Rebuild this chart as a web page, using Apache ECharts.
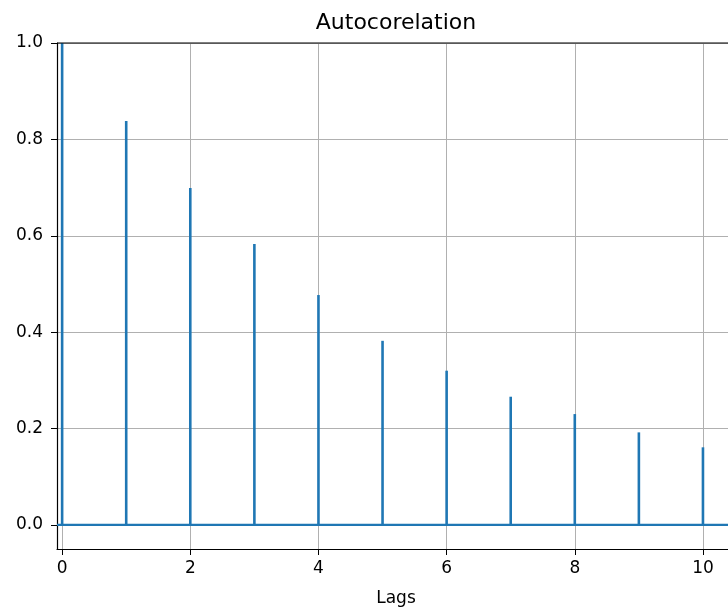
<!DOCTYPE html>
<html>
<head>
<meta charset="utf-8">
<script src="https://cdn.jsdelivr.net/npm/echarts@6/dist/echarts.min.js"></script>
<style>
  html, body { margin: 0; padding: 0; background: #fff; }
  #chart { width: 728px; height: 607px; }
</style>
</head>
<body>
<div id="chart"></div>
<script>
// autocorrelation per lag
var lags = [0, 1, 2, 3, 4, 5, 6, 7, 8, 9, 10];
var acf = [1.0, 0.838, 0.699, 0.583, 0.477, 0.382, 0.320, 0.266, 0.230, 0.192, 0.161];
var xTicks = [0, 2, 4, 6, 8, 10];
var yTicks = [0, 0.2, 0.4, 0.6, 0.8, 1.0];

var xMin = -0.08, xMax = 10.5;
var yMin = -0.05, yMax = 1.0;
var blue = '#1f77b4';
var font = 'DejaVu Sans';

var stems = lags.map(function (l, i) { return [l, acf[i]]; });

var chart = echarts.init(document.getElementById('chart'));
chart.setOption({
  animation: false,
  backgroundColor: '#fff',
  title: {
    text: 'Autocorelation',
    left: 391, top: 7, textAlign: 'center',
    textStyle: { fontFamily: font, fontSize: 22, fontWeight: 'normal', color: '#000' }
  },
  grid: { left: 57, top: 43, bottom: 58, right: -7, containLabel: false, outerBoundsMode: 'none' },
  xAxis: {
    type: 'value', min: xMin, max: xMax,
    name: 'Lags', nameLocation: 'middle', nameGap: 41,
    nameTextStyle: { fontFamily: font, fontSize: 17, color: '#000' },
    axisLine: { onZero: false, lineStyle: { color: '#000', width: 1.2 } },
    axisTick: { show: true, length: 6, customValues: xTicks, lineStyle: { color: '#000' } },
    axisLabel: { customValues: xTicks, margin: 11, fontFamily: font, fontSize: 17, color: '#000' },
    splitLine: { show: true, customValues: xTicks, lineStyle: { color: '#b0b0b0', width: 1 } }
  },
  yAxis: {
    type: 'value', min: yMin, max: yMax,
    axisLine: { show: true, onZero: false, lineStyle: { color: '#000', width: 1.2 } },
    axisTick: { show: true, length: 6, customValues: yTicks, lineStyle: { color: '#000' } },
    axisLabel: {
      customValues: yTicks, margin: 14, fontFamily: font, fontSize: 17, color: '#000',
      formatter: function (v) { return v.toFixed(1); }
    },
    splitLine: { show: true, customValues: yTicks, lineStyle: { color: '#b0b0b0', width: 1 } }
  },
  series: [
    {
      type: 'line',
      data: [[xMin, 0], [xMax, 0]],
      symbol: 'none',
      lineStyle: { color: blue, width: 2.2 },
      z: 3
    },
    {
      type: 'custom',
      data: stems,
      renderItem: function (params, api) {
        var p0 = api.coord([api.value(0), 0]);
        var p1 = api.coord([api.value(0), api.value(1)]);
        return {
          type: 'line',
          shape: { x1: p0[0], y1: p0[1], x2: p1[0], y2: p1[1] },
          style: { stroke: blue, lineWidth: 2.6 }
        };
      },
      z: 4
    }
  ]
});
// top spine
chart.setOption({
  graphic: [{
    type: 'line', z: 100,
    shape: { x1: 57, y1: 43, x2: 728, y2: 43 },
    style: { stroke: '#000', lineWidth: 1.2 }
  }]
});
</script>
</body>
</html>
